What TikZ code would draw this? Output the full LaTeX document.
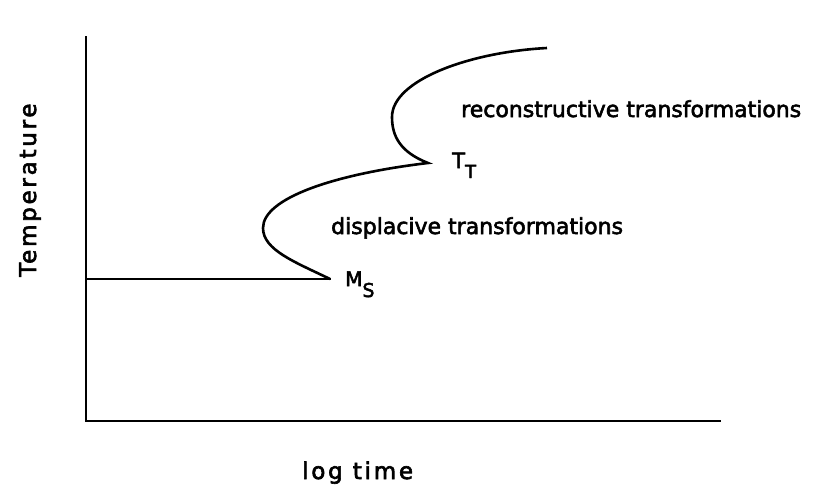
\documentclass[tikz,border=0pt]{standalone}
\usepackage{fontspec}
\setmainfont{DejaVu Sans}[FakeBold=2.6]
\newfontfamily\spacedfont{DejaVu Sans}[LetterSpace=12,FakeBold=2.6]
\begin{document}
\begin{tikzpicture}[x=1pt,y=-1pt,
  axis/.style={line width=2.4pt,line cap=rect},
  tcurve/.style={line width=2.6pt,line join=miter},
  lbl/.style={font=\fontsize{22}{26}\selectfont,inner sep=0pt,anchor=base west},
  axlbl/.style={font=\spacedfont\fontsize{23}{27}\selectfont,inner sep=0pt,anchor=base west}]
  \useasboundingbox (0,0) rectangle (818,490);
  % axes
  \coordinate (ytop) at (86,37);
  \coordinate (orig) at (86,421);
  \coordinate (xend) at (720,421);
  \draw[axis] (ytop) -- (orig) -- (xend);
  % martensite start line and the C-curves
  \coordinate (ms0) at (86,279);
  \coordinate (ms) at (330,279);
  \coordinate (tt) at (428,163);
  \coordinate (cend) at (547,48);
  \draw[axis] (ms0) -- (ms);
  \draw[tcurve] (ms) .. controls (295,262) and (263,250) .. (263,228)
    .. controls (263,198) and (335,174) .. (tt)
    .. controls (400,152) and (392,136) .. (392,117)
    .. controls (392,80) and (470,52) .. (cend);
  % labels
  \node[lbl] (recon) at (461,117) {reconstructive transformations};
  \node[lbl] (displ) at (331,234) {displacive transformations};
  \node[inner sep=0pt,anchor=base west,font=\fontsize{21}{24}\selectfont] (ttl) at (452,168)
    {T\raisebox{-10pt}{\fontsize{18}{20}\selectfont T}};
  \node[inner sep=0pt,anchor=base west,font=\fontsize{20}{24}\selectfont] (msl) at (345,286)
    {M\raisebox{-11pt}{\fontsize{19}{22}\selectfont S}};
  \node[axlbl] (xlab) at (302,479) {log time};
  \node[axlbl,rotate=90] (ylab) at (36,277) {Temperature};
\end{tikzpicture}
\end{document}
